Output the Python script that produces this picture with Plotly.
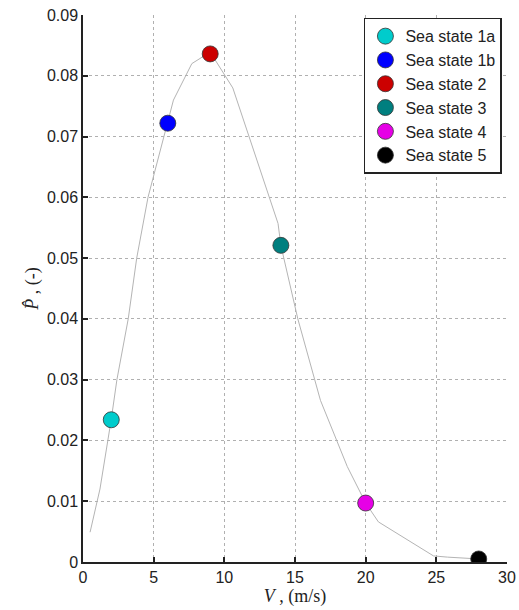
import plotly.graph_objects as go

# Curve (piecewise linear)
curve_v = [0.5, 1.2, 2.0, 2.4, 3.2, 3.8, 4.6, 5.5, 6.0, 6.4, 7.7, 9.0, 10.6, 13.8, 14.0, 15.2, 16.8, 18.7, 20.0, 20.9, 24.8, 25.8, 28.0]
curve_p = [0.0049, 0.012, 0.0235, 0.030, 0.040, 0.050, 0.060, 0.068, 0.0722, 0.076, 0.082, 0.0839, 0.078, 0.0557, 0.0521, 0.040, 0.0266, 0.0157, 0.0097, 0.0066, 0.0010, 0.0008, 0.0005]

# Sea states
states = ["Sea state 1a", "Sea state 1b", "Sea state 2", "Sea state 3", "Sea state 4", "Sea state 5"]
state_v = [2, 6, 9, 14, 20, 28]
state_p = [0.0234, 0.0722, 0.0836, 0.0521, 0.0097, 0.0005]
state_colors = ["#00cccc", "#0000ff", "#cc0000", "#007f7f", "#e600e6", "#000000"]

x_ticks = [0, 5, 10, 15, 20, 25, 30]
y_ticks = [0, 0.01, 0.02, 0.03, 0.04, 0.05, 0.06, 0.07, 0.08, 0.09]

fig = go.Figure()
fig.add_trace(go.Scatter(x=curve_v, y=curve_p, mode="lines",
                         line=dict(color="#b4b4b4", width=1), showlegend=False,
                         hoverinfo="skip"))
for name, v, p, c in zip(states, state_v, state_p, state_colors):
    fig.add_trace(go.Scatter(x=[v], y=[p], mode="markers", name=name,
                             marker=dict(color=c, size=16,
                                         line=dict(color="#333333", width=0.8))))

axis_common = dict(showline=True, linecolor="#222222", linewidth=1.5,
                   ticks="inside", ticklen=5, tickcolor="#222222", tickwidth=1.5,
                   showgrid=True, gridcolor="#b0b0b0", griddash="dot", gridwidth=1,
                   zeroline=False, mirror=False, automargin=False,
                   tickfont=dict(family="Liberation Sans, Arial", size=16, color="#222222"))

fig.update_layout(
    width=519, height=610,
    margin=dict(l=83, r=12, t=15, b=48),
    paper_bgcolor="white", plot_bgcolor="white",
    xaxis=dict(range=[0, 30], tickvals=x_ticks, ticktext=[str(t) for t in x_ticks],
               title=dict(text="<i>V</i> , (m/s)", standoff=2,
                          font=dict(family="Liberation Serif, DejaVu Serif", size=18, color="#222222")),
               **axis_common),
    yaxis=dict(range=[0, 0.09], tickvals=y_ticks,
               ticktext=["0"] + ["%.2f" % t for t in y_ticks[1:]],
               title=dict(text="<i>P\u0302</i> , (-)", standoff=4,
                          font=dict(family="Liberation Serif, DejaVu Serif", size=18, color="#222222")),
               **axis_common),
    legend=dict(x=0.988, y=0.995, xanchor="right", yanchor="top",
                bordercolor="#222222", borderwidth=1.5, bgcolor="white",
                font=dict(family="Liberation Sans, Arial", size=16, color="#222222"),
                tracegroupgap=0, itemwidth=30),
    showlegend=True,
)

fig.write_html("out.html")
